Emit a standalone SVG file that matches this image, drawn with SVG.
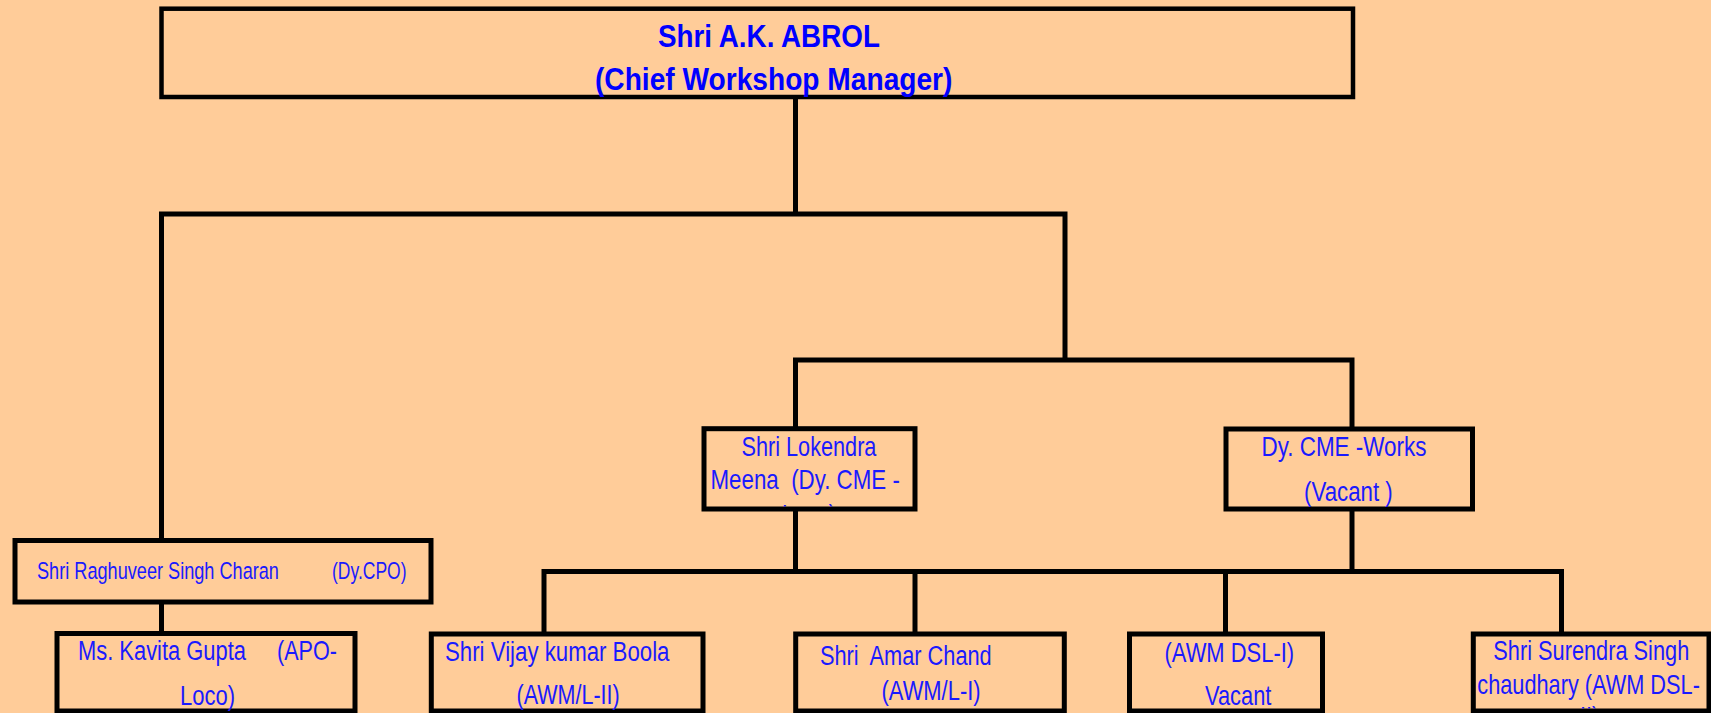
<svg xmlns="http://www.w3.org/2000/svg" width="1711" height="713" viewBox="0 0 1711 713">
<style>
.bg{fill:#FFCC99}
.box{fill:#FFCC99;stroke:#000;stroke-width:5}
.top{stroke-width:4.5}
.ln{fill:none;stroke:#000;stroke-width:5;stroke-linejoin:miter}
.b{font-family:"Liberation Sans",Arial,sans-serif;font-weight:bold;font-size:31px;fill:#0000FF}
.t{font-family:"Liberation Sans",Arial,sans-serif;font-size:27px;fill:#1a1aff}
.s{font-size:23.5px}
</style>
<defs>
<clipPath id="clipLok"><rect x="706.5" y="431.2" width="206" height="75.3"/></clipPath>
<clipPath id="clipSur"><rect x="1476" y="636.5" width="230.5" height="72"/></clipPath>
</defs>
<rect class="bg" x="0" y="0" width="1711" height="713"/>

<g id="connectors">
<path class="ln" d="M795.5 97 V214"/>
<path class="ln" d="M161.5 540.5 V214 H1065 V360"/>
<path class="ln" d="M795.5 428.7 V360 H1352 V429"/>
<path class="ln" d="M161.5 602 V633.5"/>
<path class="ln" d="M795.5 509 V571.5"/>
<path class="ln" d="M1352 509 V571.5"/>
<path class="ln" d="M544 634 V571.5 H1561.5 V634"/>
<path class="ln" d="M915 571.5 V634"/>
<path class="ln" d="M1225.5 571.5 V634"/>
</g>

<g id="node-abrol">
<rect class="box top" x="161.5" y="8.7" width="1191.5" height="88.3"/>
<text class="b" transform="translate(658,46.5) scale(0.897,1)">Shri A.K. ABROL</text>
<text class="b" transform="translate(595,89.5) scale(0.908,1)">(Chief Workshop Manager)</text>
</g>

<g id="node-raghuveer">
<rect class="box" x="15" y="540.5" width="416" height="61.5"/>
<text class="t s" transform="translate(37,579) scale(0.772,1)">Shri Raghuveer Singh Charan</text>
<text class="t s" transform="translate(332,579) scale(0.745,1)">(Dy.CPO)</text>
</g>

<g id="node-kavita">
<rect class="box" x="57" y="633.5" width="298" height="77.5"/>
<text class="t" transform="translate(78,660) scale(0.811,1)">Ms. Kavita Gupta</text>
<text class="t" transform="translate(277,660) scale(0.80,1)">(APO-</text>
<text class="t" transform="translate(180,705) scale(0.815,1)">Loco)</text>
</g>

<g id="node-lokendra">
<rect class="box" x="704" y="428.7" width="211" height="80.3"/>
<text class="t" transform="translate(741.5,455.7) scale(0.803,1)">Shri Lokendra</text>
<text class="t" transform="translate(710.5,489) scale(0.827,1)" xml:space="preserve">Meena  (Dy. CME -</text>
<g clip-path="url(#clipLok)">
<text class="t" transform="translate(782,523.5) scale(0.80,1)">Loco)</text>
</g>
</g>

<g id="node-dycme-works">
<rect class="box" x="1226" y="429" width="246.5" height="80"/>
<text class="t" transform="translate(1261.5,456) scale(0.831,1)">Dy. CME -Works</text>
<text class="t" transform="translate(1304,501) scale(0.826,1)" xml:space="preserve">(Vacant )</text>
</g>

<g id="node-vijay">
<rect class="box" x="431.3" y="634" width="271.7" height="77"/>
<text class="t" transform="translate(445,660.5) scale(0.824,1)">Shri Vijay kumar Boola</text>
<text class="t" transform="translate(516.5,704) scale(0.797,1)">(AWM/L-II)</text>
</g>

<g id="node-amar">
<rect class="box" x="795.7" y="634" width="268.6" height="77"/>
<text class="t" transform="translate(820,665) scale(0.806,1)" xml:space="preserve">Shri  Amar Chand</text>
<text class="t" transform="translate(881.5,699.5) scale(0.813,1)">(AWM/L-I)</text>
</g>

<g id="node-awm-dsl1">
<rect class="box" x="1129.5" y="634" width="193" height="77"/>
<text class="t" transform="translate(1164.5,661.5) scale(0.813,1)">(AWM DSL-I)</text>
<text class="t" transform="translate(1205,705) scale(0.809,1)">Vacant</text>
</g>

<g id="node-surendra">
<rect class="box" x="1473.3" y="634" width="235.7" height="77"/>
<text class="t" transform="translate(1493.3,660) scale(0.806,1)">Shri Surendra Singh</text>
<text class="t" transform="translate(1477.3,694) scale(0.805,1)">chaudhary (AWM DSL-</text>
<g clip-path="url(#clipSur)">
<text class="t" transform="translate(1580,726) scale(0.8,1)">II)</text>
</g>
</g>
</svg>
